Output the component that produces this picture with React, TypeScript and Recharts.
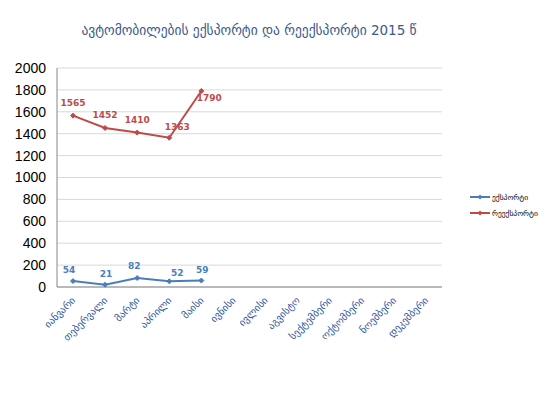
import React from 'react'
import { LineChart, Line, XAxis, YAxis, CartesianGrid, LabelList } from 'recharts'

const months = [
  'იანვარი', 'თებერვალი', 'მარტი', 'აპრილი', 'მაისი', 'ივნისი',
  'ივლისი', 'აგვისტო', 'სექტემბერი', 'ოქტომბერი', 'ნოემბერი', 'დეკემბერი'
]
const exportVals: (number | null)[] = [54, 21, 82, 52, 59, null, null, null, null, null, null, null]
const reexportVals: (number | null)[] = [1565, 1452, 1410, 1363, 1790, null, null, null, null, null, null, null]
const yTicks = [0, 200, 400, 600, 800, 1000, 1200, 1400, 1600, 1800, 2000]

const data = months.map((m, i) => ({ month: m, exp: exportVals[i], reexp: reexportVals[i] }))

const BLUE = '#4a7ebb'
const RED = '#be4b48'
const FONT = '"DejaVu Sans", sans-serif'

// label nudges per point, copied from how Excel placed them
const redNudge = [[0, -10], [0, -10], [0, -10], [8, -8], [8, 10]]
const blueNudge = [[-4, -8], [1, -8], [-3, -9], [8, -5], [1, -8]]

const makeLabel = (color: string, nudge: number[][]) => (props: any) => {
  const { x, y, value, index } = props
  if (value == null) return null
  const [dx, dy] = nudge[index] || [0, -8]
  return (
    <text x={x + dx} y={y + dy} textAnchor="middle" fill={color} fontSize={9}
      fontWeight="bold" fontFamily={FONT}>
      {value}
    </text>
  )
}

const marker = (color: string) => (props: any) => {
  const { cx, cy, value, index } = props
  if (value == null) return <g key={index} />
  return (
    <path key={index} d={`M${cx - 2.5},${cy} L${cx},${cy - 2.5} L${cx + 2.5},${cy} L${cx},${cy + 2.5} Z`}
      fill={color} stroke={color} />
  )
}

const MonthTick = (props: any) => {
  const { x, y, payload } = props
  return (
    <text x={x + 3} y={y + 6} transform={`rotate(-45 ${x + 3} ${y + 6})`} textAnchor="end"
      fill="#2f5597" fontSize={10} fontFamily={FONT}>
      {payload.value}
    </text>
  )
}

const legendItems = [
  { name: 'ექსპორტი', color: BLUE },
  { name: 'რეექსპორტი', color: RED }
]

export default function App() {
  return (
    <div style={{ position: 'absolute', left: 0, top: 0, width: 550, height: 412, background: '#fff' }}>
      <div style={{
        position: 'absolute', top: 22, left: 0, width: 498, textAlign: 'center',
        fontFamily: FONT, fontSize: 13.5, color: '#3b5a8a'
      }}>
        ავტომობილების  ექსპორტი და რეექსპორტი 2015 წ
      </div>
      <LineChart width={550} height={412} data={data}
        margin={{ top: 68, right: 108, bottom: 95, left: 0 }}>
        <CartesianGrid vertical={false} stroke="#d9d9d9" />
        <XAxis dataKey="month" interval={0} stroke="#868686" tickLine={false} height={30}
          padding={{ left: 16, right: 16 }} tick={<MonthTick />} />
        <YAxis width={57} domain={[0, 2000]} ticks={yTicks} interval={0} stroke="#868686"
          axisLine={{ stroke: '#868686' }} tickLine={false}
          tick={{ fill: '#000', fontSize: 14, dx: -3, fontFamily: '"Liberation Sans", sans-serif' }} />
        <Line dataKey="exp" stroke={BLUE} strokeWidth={2} isAnimationActive={false}
          dot={marker(BLUE)} connectNulls={false}>
          <LabelList dataKey="exp" content={makeLabel(BLUE, blueNudge)} />
        </Line>
        <Line dataKey="reexp" stroke={RED} strokeWidth={2} isAnimationActive={false}
          dot={marker(RED)} connectNulls={false}>
          <LabelList dataKey="reexp" content={makeLabel(RED, redNudge)} />
        </Line>
      </LineChart>
      <div style={{ position: 'absolute', left: 470, top: 189, fontFamily: FONT, fontSize: 7.5 }}>
        {legendItems.map(it => (
          <div key={it.name} style={{ display: 'flex', alignItems: 'center', height: 16, color: '#000' }}>
            <svg width={20} height={8} style={{ marginRight: 2 }}>
              <line x1={0} y1={4} x2={20} y2={4} stroke={it.color} strokeWidth={2} />
              <path d="M10,1.5 L12.5,4 L10,6.5 L7.5,4 Z" fill={it.color} />
            </svg>
            {it.name}
          </div>
        ))}
      </div>
    </div>
  )
}
